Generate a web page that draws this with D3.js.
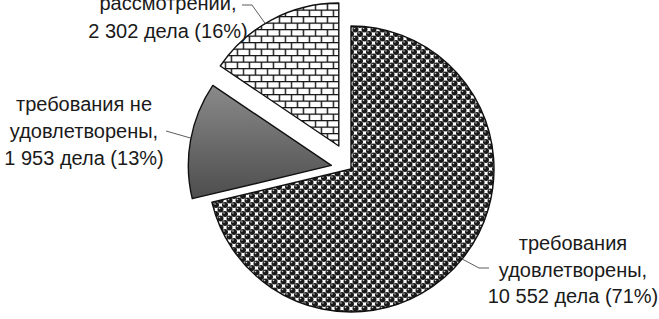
<!DOCTYPE html>
<html>
<head>
<meta charset="utf-8">
<script src="https://cdn.jsdelivr.net/npm/d3@7"></script>
<style>
  html, body { margin: 0; padding: 0; background: #fff; }
  svg { display: block; }
  text { font-family: "Liberation Sans", Arial, sans-serif; fill: #1a1a1a; }
</style>
</head>
<body>
<div id="chart"></div>
<script>
// ---- data ----
const categories = ["требования удовлетворены", "требования не удовлетворены", "на рассмотрении"];
const values = [10552, 1953, 2302];
const labelLines = [
  ["требования", "удовлетворены,", "10 552 дела (71%)"],
  ["требования не", "удовлетворены,", "1 953 дела (13%)"],
  ["рассмотрении,", "2 302 дела (16%)"]
];

// ---- layout ----
const W = 659, H = 319;
const cx = 351, cy = 169, R = 143;
const explode = [0, 20, 26];
const fills = ["url(#sphere)", "url(#grayGrad)", "url(#brick)"];
const labelPos = [
  {x: 573, y: 250, dy: 26.5},
  {x: 84, y: 111, dy: 27},
  {x: 168, y: 10, dy: 27.5}
];
// leader lines: angle on arc (deg, clockwise from 12) -> points
const leaders = [
  {angle: 129, pts: [[479, 268], [489, 268]]},
  {angle: 281, pts: [[166, 131]]},
  {angle: 329, pts: [[252, 5], [242, 5]]}
];

const svg = d3.select("#chart").append("svg")
  .attr("width", W).attr("height", H);

const defs = svg.append("defs");

// sphere (checker of balls) pattern
const ps = 9;
const sp = defs.append("pattern").attr("id", "sphere")
  .attr("patternUnits", "userSpaceOnUse").attr("width", ps).attr("height", ps);
sp.append("rect").attr("width", ps).attr("height", ps).attr("fill", "#fff");
[[ps / 2, ps / 2], [0, 0], [ps, 0], [0, ps], [ps, ps]].forEach(([x, y]) => {
  sp.append("circle").attr("cx", x).attr("cy", y).attr("r", 3.0).attr("fill", "#1a1a1a");
  sp.append("circle").attr("cx", x - 1).attr("cy", y - 1).attr("r", 0.8).attr("fill", "#c8c8c8");
});

// brick pattern
const bw = 12, bh = 6.5;
const bp = defs.append("pattern").attr("id", "brick")
  .attr("patternUnits", "userSpaceOnUse").attr("width", bw * 2).attr("height", bh * 2);
bp.append("rect").attr("width", bw * 2).attr("height", bh * 2).attr("fill", "#fff");
const bpath = [
  `M0,0.6H${bw * 2}`, `M0,${bh + 0.6}H${bw * 2}`,
  `M0.6,0V${bh}`, `M${bw + 0.6},0V${bh}`,
  `M${bw / 2 + 0.6},${bh}V${bh * 2}`, `M${bw * 1.5 + 0.6},${bh}V${bh * 2}`
].join("");
bp.append("path").attr("d", bpath).attr("stroke", "#111").attr("stroke-width", 1.4).attr("fill", "none");

// gray gradient
const gg = defs.append("linearGradient").attr("id", "grayGrad")
  .attr("x1", 0).attr("y1", 0).attr("x2", 0).attr("y2", 1);
gg.append("stop").attr("offset", "0%").attr("stop-color", "#8a8a8a");
gg.append("stop").attr("offset", "100%").attr("stop-color", "#4d4d4d");

const pie = d3.pie().sort(null).value(d => d)(values);
const arc = d3.arc().innerRadius(0).outerRadius(R);

const centers = pie.map((p, i) => {
  const mid = (p.startAngle + p.endAngle) / 2;
  return [cx + Math.sin(mid) * explode[i], cy - Math.cos(mid) * explode[i]];
});

svg.selectAll("path.slice").data(pie).join("path")
  .attr("class", "slice")
  .attr("transform", (d, i) => `translate(${centers[i][0]},${centers[i][1]})`)
  .attr("d", arc)
  .attr("fill", (d, i) => fills[i])
  .attr("stroke", "#111")
  .attr("stroke-width", 1.4)
  .attr("stroke-linejoin", "round");

// leader lines
leaders.forEach((l, i) => {
  const a = l.angle * Math.PI / 180;
  const start = [centers[i][0] + Math.sin(a) * R, centers[i][1] - Math.cos(a) * R];
  svg.append("path")
    .attr("d", d3.line()([start, ...l.pts]))
    .attr("fill", "none").attr("stroke", "#333").attr("stroke-width", 0.8);
});

// labels
labelLines.forEach((lines, i) => {
  const t = svg.append("text")
    .attr("text-anchor", "middle")
    .attr("font-size", 20);
  lines.forEach((s, j) => {
    t.append("tspan").attr("x", labelPos[i].x).attr("y", labelPos[i].y + j * labelPos[i].dy).text(s);
  });
});
</script>
</body>
</html>
